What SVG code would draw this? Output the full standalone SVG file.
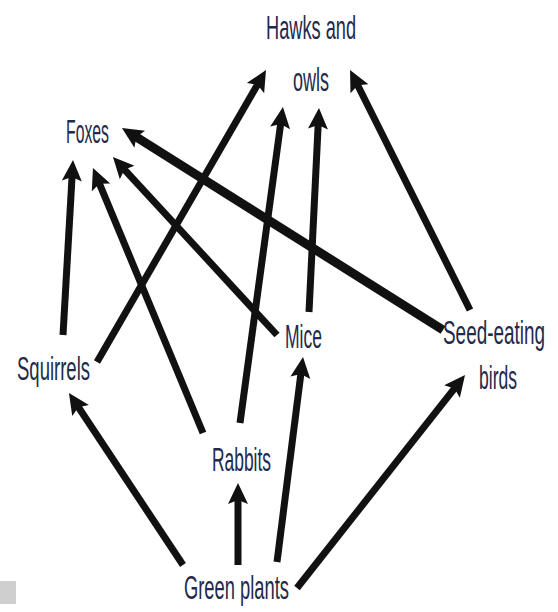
<svg xmlns="http://www.w3.org/2000/svg" width="558" height="612" viewBox="0 0 558 612">
<style>
.lbl{font-family:"Liberation Sans",Arial,sans-serif;font-size:33px;fill:#232a4a;}
.arr{stroke:#111;stroke-width:7;fill:none;marker-end:url(#head);}
.thick{stroke-width:9;}
</style>
<defs>
<marker id="head" markerUnits="userSpaceOnUse" viewBox="-6 -12 24 24" markerWidth="24" markerHeight="24" refX="0" refY="0" orient="auto">
<path d="M-5,-10 L16,0 L-5,10 L-1,0 z" fill="#111"/>
</marker>
</defs>
<rect x="0" y="581" width="16" height="23" fill="#cfcfcf"/>
<g id="connectors">
<line class="arr" x1="63" y1="335" x2="72.1" y2="176"/>
<line class="arr" x1="97" y1="362" x2="258" y2="83.8"/>
<line class="arr" x1="203" y1="433" x2="99.1" y2="182.8"/>
<line class="arr" x1="277" y1="335" x2="123.8" y2="168.8"/>
<line class="arr thick" x1="443" y1="330" x2="135.5" y2="136.5"/>
<line class="arr" x1="183" y1="565" x2="77.8" y2="406.3"/>
<line class="arr" x1="238" y1="565" x2="238" y2="499"/>
<line class="arr" x1="277" y1="562" x2="301" y2="372.9"/>
<line class="arr" x1="297" y1="588" x2="455.1" y2="387.6"/>
<line class="arr" x1="240" y1="423" x2="280.8" y2="122.9"/>
<line class="arr" x1="309" y1="312" x2="318.2" y2="124"/>
<line class="arr" x1="470" y1="310" x2="357.2" y2="84.3"/>
</g>
<g id="hawks"><text class="lbl" x="266" y="39" textLength="90" lengthAdjust="spacingAndGlyphs">Hawks and</text><text class="lbl" x="293" y="91" textLength="36" lengthAdjust="spacingAndGlyphs">owls</text></g>
<g id="foxes"><text class="lbl" x="66" y="143" textLength="43" lengthAdjust="spacingAndGlyphs">Foxes</text></g>
<g id="squirrels"><text class="lbl" x="17" y="380" textLength="73" lengthAdjust="spacingAndGlyphs">Squirrels</text></g>
<g id="mice"><text class="lbl" x="285" y="348" textLength="37" lengthAdjust="spacingAndGlyphs">Mice</text></g>
<g id="seedbirds"><text class="lbl" transform="translate(443,344) scale(0.573,1)" x="0" y="0" textLength="178" lengthAdjust="spacingAndGlyphs">Seed-eating</text><text class="lbl" x="479" y="389" textLength="38" lengthAdjust="spacingAndGlyphs">birds</text></g>
<g id="rabbits"><text class="lbl" x="212" y="471" textLength="59" lengthAdjust="spacingAndGlyphs">Rabbits</text></g>
<g id="greenplants"><text class="lbl" x="184" y="599" textLength="105" lengthAdjust="spacingAndGlyphs">Green plants</text></g>
</svg>
